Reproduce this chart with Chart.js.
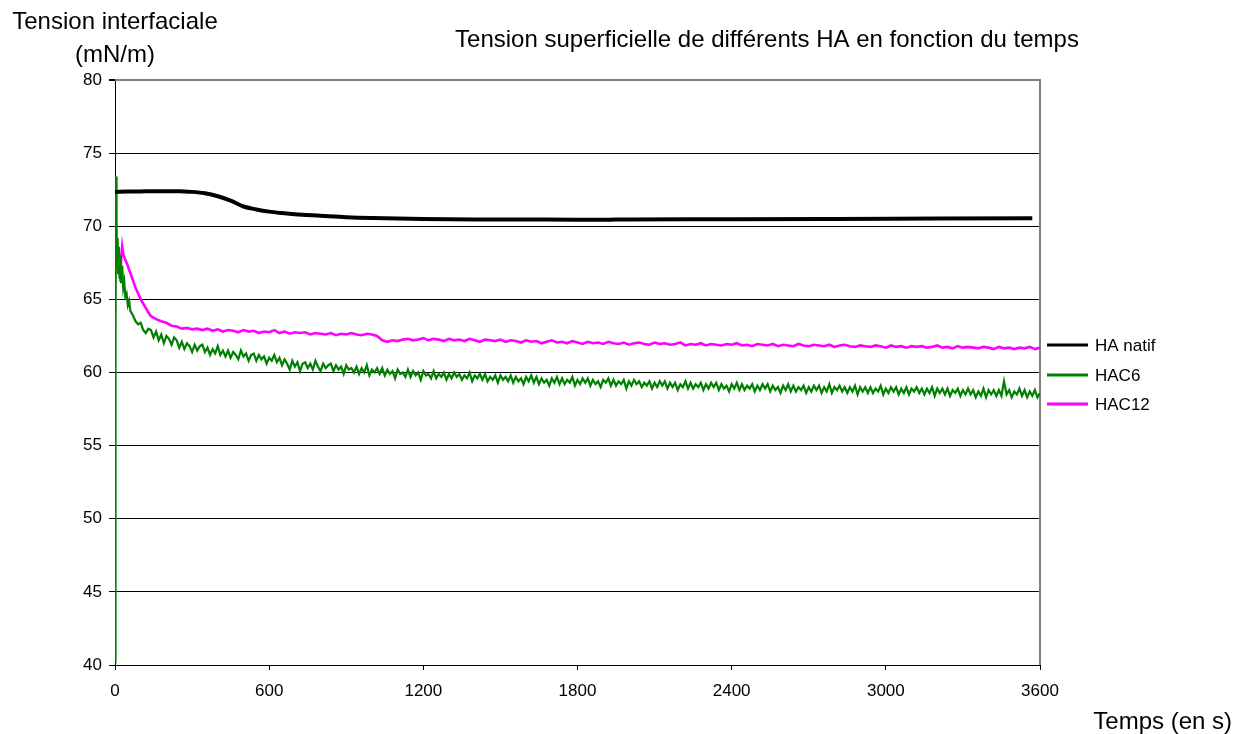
<!DOCTYPE html>
<html>
<head>
<meta charset="utf-8">
<script src="https://cdn.jsdelivr.net/npm/chart.js@4.4.1/dist/chart.umd.min.js"></script>
<style>
html,body{margin:0;padding:0;background:#fff;}
#wrap{width:1235px;height:734px;position:relative;}
</style>
</head>
<body>
<div id="wrap"><canvas id="c" width="1235" height="734"></canvas></div>
<script>
// ---- data ----
const chartTitle = "Tension superficielle de différents HA en fonction du temps";
const yTitleLines = ["Tension interfaciale", "(mN/m)"];
const xTitle = "Temps (en s)";
const seriesNames = ["HA natif", "HAC6", "HAC12"];
const xTicks = [0, 600, 1200, 1800, 2400, 3000, 3600];
const yTicks = [40, 45, 50, 55, 60, 65, 70, 75, 80];

// HA natif (smooth)
const timesNatif = [0,50,100,150,200,250,300,350,400,450,500,550,600,650,700,800,900,1000,1200,1400,1600,1800,1900,2000,2400,2800,3200,3570];
const haNatif = [72.35,72.37,72.38,72.4,72.4,72.4,72.35,72.25,72.05,71.75,71.35,71.15,71.0,70.9,70.82,70.72,70.62,70.56,70.5,70.47,70.46,70.45,70.44,70.47,70.48,70.5,70.53,70.55];

// HAC6 (noisy measurement)
const timesHac6 = [
0,2,4,6,8,10,12,15,18,21,24,28,32,36,40,45,50,55,60,70,80,90,100,110,120,130,
140,150,160,170,180,190,200,210,220,230,
240,250,260,270,280,290,300,310,320,330,
340,350,360,370,380,390,400,410,420,430,
440,450,460,470,480,490,500,510,520,530,
540,550,560,570,580,590,600,610,620,630,
640,650,660,670,680,690,700,710,720,730,
740,750,760,770,780,790,800,810,820,830,
840,850,860,870,880,890,900,910,920,930,
940,950,960,970,980,990,1000,1010,1020,1030,
1040,1050,1060,1070,1080,1090,1100,1110,1120,1130,
1140,1150,1160,1170,1180,1190,1200,1210,1220,1230,
1240,1250,1260,1270,1280,1290,1300,1310,1320,1330,
1340,1350,1360,1370,1380,1390,1400,1410,1420,1430,
1440,1450,1460,1470,1480,1490,1500,1510,1520,1530,
1540,1550,1560,1570,1580,1590,1600,1610,1620,1630,
1640,1650,1660,1670,1680,1690,1700,1710,1720,1730,
1740,1750,1760,1770,1780,1790,1800,1810,1820,1830,
1840,1850,1860,1870,1880,1890,1900,1910,1920,1930,
1940,1950,1960,1970,1980,1990,2000,2010,2020,2030,
2040,2050,2060,2070,2080,2090,2100,2110,2120,2130,
2140,2150,2160,2170,2180,2190,2200,2210,2220,2230,
2240,2250,2260,2270,2280,2290,2300,2310,2320,2330,
2340,2350,2360,2370,2380,2390,2400,2410,2420,2430,
2440,2450,2460,2470,2480,2490,2500,2510,2520,2530,
2540,2550,2560,2570,2580,2590,2600,2610,2620,2630,
2640,2650,2660,2670,2680,2690,2700,2710,2720,2730,
2740,2750,2760,2770,2780,2790,2800,2810,2820,2830,
2840,2850,2860,2870,2880,2890,2900,2910,2920,2930,
2940,2950,2960,2970,2980,2990,3000,3010,3020,3030,
3040,3050,3060,3070,3080,3090,3100,3110,3120,3130,
3140,3150,3160,3170,3180,3190,3200,3210,3220,3230,
3240,3250,3260,3270,3280,3290,3300,3310,3320,3330,
3340,3350,3360,3370,3380,3390,3400,3410,3420,3430,
3440,3450,3460,3470,3480,3490,3500,3510,3520,3530,
3540,3550,3560,3570,3580,3590,3600];

const hac6 = [
40.2,62.0,73.4,70.2,67.8,69.2,66.8,68.6,66.4,68.0,66.1,67.3,65.8,66.2,65.2,65.4,64.6,64.9,64.2,63.9,63.5,63.3,63.4,62.9,62.7,63.0,
62.9,62.4,62.8,62.2,62.6,62.0,62.5,62.3,61.9,62.4,
62.2,61.7,62.1,61.6,62.0,61.8,61.4,61.9,61.5,61.8,
61.9,61.4,61.7,61.2,61.6,61.3,61.8,61.2,61.5,61.1,
61.5,61.0,61.4,61.2,60.9,61.5,61.1,61.3,60.8,61.2,
61.3,60.8,61.2,60.9,61.1,60.6,61.0,60.8,61.2,60.7,
61.0,60.5,60.9,60.6,60.2,60.8,60.4,60.7,60.1,60.6,
60.7,60.3,60.6,60.2,60.8,60.4,60.1,60.6,60.3,60.5,
60.6,60.1,60.5,60.2,60.4,59.9,60.5,60.2,60.3,60.0,
60.4,59.9,60.3,60.0,60.5,59.8,60.2,60.0,60.3,59.9,
60.3,59.8,60.2,59.9,60.1,59.6,60.2,59.9,60.0,59.7,
60.2,59.7,60.1,59.8,60.0,59.5,60.1,59.8,59.9,59.6,
60.1,59.6,59.9,59.7,60.0,59.5,59.9,59.6,60.0,59.7,
59.9,59.5,59.8,59.6,60.0,59.4,59.8,59.6,59.9,59.5,
59.9,59.4,59.7,59.5,59.8,59.3,59.8,59.5,59.7,59.4,
59.8,59.3,59.7,59.4,59.6,59.2,59.7,59.4,59.8,59.3,
59.7,59.2,59.6,59.3,59.5,59.1,59.6,59.3,59.7,59.2,
59.6,59.2,59.5,59.3,59.7,59.1,59.5,59.2,59.6,59.3,
59.6,59.1,59.5,59.2,59.4,59.0,59.5,59.3,59.6,59.1,
59.5,59.1,59.4,59.2,59.5,58.9,59.4,59.1,59.5,59.2,
59.4,59.0,59.3,59.1,59.4,58.9,59.3,59.0,59.4,59.1,
59.4,58.9,59.3,59.0,59.3,58.8,59.2,59.0,59.4,58.9,
59.3,58.9,59.2,59.0,59.3,58.8,59.2,58.9,59.3,59.0,
59.3,58.8,59.2,58.9,59.1,58.7,59.2,58.9,59.3,58.8,
59.2,58.8,59.1,58.9,59.2,58.7,59.1,58.8,59.2,58.9,
59.2,58.7,59.1,58.8,59.0,58.6,59.1,58.8,59.2,58.7,
59.1,58.7,59.0,58.8,59.1,58.6,59.0,58.7,59.1,58.8,
59.1,58.6,59.0,58.7,59.2,58.6,59.0,58.8,59.1,58.7,
59.0,58.6,59.0,58.7,59.1,58.5,59.0,58.7,59.0,58.6,
59.0,58.6,58.9,58.7,59.1,58.5,58.9,58.6,59.0,58.7,
59.0,58.5,58.9,58.6,59.0,58.5,58.9,58.7,59.0,58.6,
58.9,58.5,58.9,58.6,59.0,58.4,58.9,58.6,58.9,58.5,
58.9,58.4,58.8,58.6,58.9,58.4,58.8,58.5,58.9,58.5,
58.8,58.3,58.7,58.4,58.9,58.3,58.8,58.5,58.8,58.4,
58.8,58.4,59.4,58.5,58.8,58.3,58.7,58.5,58.9,58.4,
58.8,58.3,58.7,58.4,58.8,58.3,58.6];

// HAC12 (noisy measurement)
const timesHac12 = [
21,24,28,32,36,40,45,50,55,60,70,80,90,100,110,120,130,
140,160,180,200,220,240,260,280,300,320,
340,360,380,400,420,440,460,480,500,520,
540,560,580,600,620,640,660,680,700,720,
740,760,780,800,820,840,860,880,900,920,
940,960,980,1000,1020,1040,1060,1080,1100,1120,
1140,1160,1180,1200,1220,1240,1260,1280,1300,1320,
1340,1360,1380,1400,1420,1440,1460,1480,1500,1520,
1540,1560,1580,1600,1620,1640,1660,1680,1700,1720,
1740,1760,1780,1800,1820,1840,1860,1880,1900,1920,
1940,1960,1980,2000,2020,2040,2060,2080,2100,2120,
2140,2160,2180,2200,2220,2240,2260,2280,2300,2320,
2340,2360,2380,2400,2420,2440,2460,2480,2500,2520,
2540,2560,2580,2600,2620,2640,2660,2680,2700,2720,
2740,2760,2780,2800,2820,2840,2860,2880,2900,2920,
2940,2960,2980,3000,3020,3040,3060,3080,3100,3120,
3140,3160,3180,3200,3220,3240,3260,3280,3300,3320,
3340,3360,3380,3400,3420,3440,3460,3480,3500,3520,
3540,3560,3580,3600];

const hac12 = [
66.2,67.8,68.6,68.1,67.9,67.7,67.5,67.3,67.0,66.8,66.3,65.8,65.4,65.0,64.7,64.4,64.1,
63.85,63.65,63.5,63.4,63.2,63.15,63.0,63.05,62.95,63.0,
62.9,63.0,62.85,62.95,62.8,62.9,62.85,62.75,62.9,62.8,
62.85,62.7,62.8,62.75,62.9,62.7,62.8,62.65,62.75,62.7,
62.75,62.6,62.7,62.65,62.6,62.7,62.55,62.65,62.6,62.7,
62.6,62.55,62.65,62.6,62.5,62.2,62.1,62.2,62.15,62.25,
62.3,62.2,62.25,62.35,62.2,62.3,62.25,62.15,62.3,62.2,
62.25,62.15,62.3,62.2,62.1,62.25,62.2,62.15,62.25,62.1,
62.2,62.15,62.05,62.2,62.1,62.15,62.0,62.1,62.2,62.05,
62.1,62.0,62.15,62.05,61.95,62.1,62.0,62.05,61.95,62.1,
62.0,61.95,62.05,61.9,62.0,62.05,61.95,61.9,62.05,61.95,
62.0,61.9,61.95,62.05,61.85,61.95,61.9,62.0,61.85,61.95,
61.9,61.85,61.95,61.9,62.0,61.85,61.9,61.8,61.95,61.9,
61.85,61.95,61.8,61.9,61.85,61.8,61.95,61.85,61.8,61.9,
61.85,61.8,61.9,61.75,61.85,61.9,61.8,61.75,61.85,61.8,
61.75,61.85,61.8,61.7,61.85,61.75,61.8,61.7,61.8,61.75,
61.8,61.7,61.75,61.85,61.7,61.75,61.65,61.8,61.7,61.75,
61.7,61.65,61.75,61.7,61.6,61.75,61.65,61.7,61.6,61.7,
61.65,61.75,61.6,61.7];

const seriesColors = ["#000000", "#008000", "#FF00FF"];

// ---- chart ----
const FONT = "'Liberation Sans', Arial, sans-serif";
const toXY = (xs, ys) => xs.map((x, i) => ({x: x, y: ys[i]}));

const overlay = {
  id: 'overlay',
  beforeDatasetsDraw(chart) {
    const {ctx, chartArea: a} = chart;
    ctx.save();
    ctx.strokeStyle = '#808080';
    ctx.lineWidth = 2;
    ctx.beginPath();
    ctx.moveTo(a.left, a.top);
    ctx.lineTo(a.right, a.top);
    ctx.lineTo(a.right, a.bottom);
    ctx.stroke();
    ctx.restore();
  },
  afterDraw(chart) {
    const {ctx} = chart;
    ctx.save();
    ctx.fillStyle = '#000';
    ctx.textBaseline = 'middle';
    ctx.font = "24px " + FONT;
    ctx.textAlign = 'center';
    ctx.fillText(yTitleLines[0], 115, 22);
    ctx.fillText(yTitleLines[1], 115, 55);
    ctx.fillText(chartTitle, 767, 40);
    ctx.textAlign = 'right';
    ctx.fillText(xTitle, 1232, 722);
    // legend
    const ly = [345, 375, 404];
    ctx.font = "17px " + FONT;
    ctx.textAlign = 'left';
    seriesNames.forEach((n, i) => {
      ctx.strokeStyle = seriesColors[i];
      ctx.lineWidth = 3;
      ctx.beginPath();
      ctx.moveTo(1047, ly[i]);
      ctx.lineTo(1088, ly[i]);
      ctx.stroke();
      ctx.fillText(n, 1095, ly[i] + 1);
    });
    ctx.restore();
  }
};

new Chart(document.getElementById('c'), {
  type: 'line',
  data: {
    datasets: [
      {label: seriesNames[0], data: toXY(timesNatif, haNatif), borderColor: seriesColors[0], borderWidth: 4, pointRadius: 0, cubicInterpolationMode: 'monotone'},
      {label: seriesNames[1], data: toXY(timesHac6, hac6), borderColor: seriesColors[1], borderWidth: 2.2, pointRadius: 0, tension: 0},
      {label: seriesNames[2], data: toXY(timesHac12, hac12), borderColor: seriesColors[2], borderWidth: 2.6, pointRadius: 0, tension: 0}
    ]
  },
  options: {
    responsive: false,
    animation: false,
    events: [],
    layout: {padding: {left: 0, top: 80, right: 195, bottom: 0}},
    plugins: {legend: {display: false}, tooltip: {enabled: false}, title: {display: false}},
    scales: {
      x: {
        type: 'linear', min: 0, max: 3600,
        afterBuildTicks: s => { s.ticks = xTicks.map(v => ({value: v})); },
        afterFit: s => { s.height = 69; },
        grid: {drawOnChartArea: false, drawTicks: true, tickLength: 5, tickColor: '#000'},
        border: {color: '#000', width: 1},
        ticks: {color: '#000', font: {family: FONT, size: 17}, padding: 11, maxRotation: 0, autoSkip: false, callback: v => String(v)}
      },
      y: {
        min: 40, max: 80,
        afterBuildTicks: s => { s.ticks = yTicks.map(v => ({value: v})); },
        afterFit: s => { s.width = 115; },
        grid: {color: c => (c.tick && c.tick.value === 80) ? '#808080' : '#000', lineWidth: c => (c.tick && c.tick.value === 80) ? 2 : 1, drawTicks: true, tickLength: 6, tickColor: '#000'},
        border: {color: '#000', width: 1},
        ticks: {color: '#000', font: {family: FONT, size: 17}, padding: 7, callback: v => String(v)}
      }
    }
  },
  plugins: [overlay]
});
</script>
</body>
</html>
